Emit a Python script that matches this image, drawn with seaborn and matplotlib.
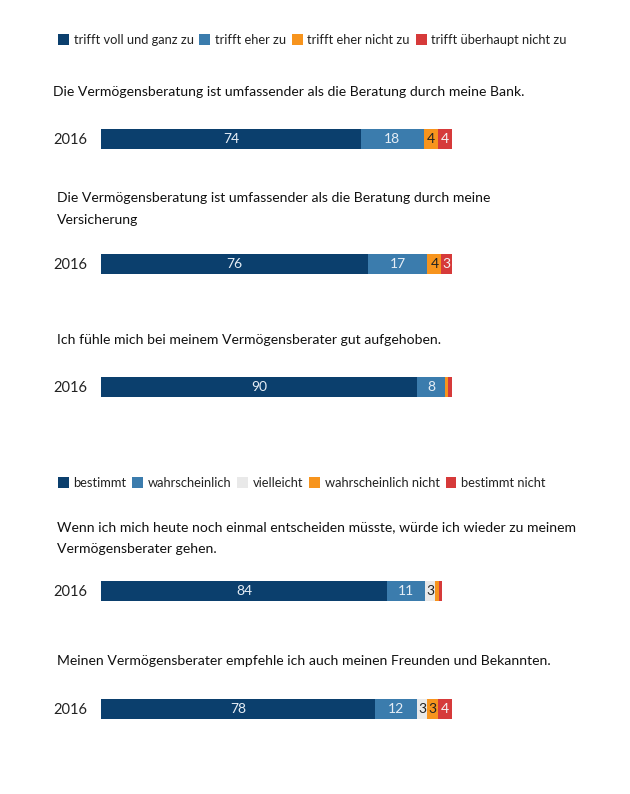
import matplotlib
matplotlib.use('Agg')
import matplotlib.pyplot as plt
import seaborn as sns
import pandas as pd
import numpy as np
from matplotlib.patches import Patch

sns.set_theme(style='white')
plt.rcParams['font.family'] = ['Lato', 'DejaVu Sans']

# ---------------- data ----------------
legend1 = ['trifft voll und ganz zu', 'trifft eher zu', 'trifft eher nicht zu', 'trifft überhaupt nicht zu']
legend2 = ['bestimmt', 'wahrscheinlich', 'vielleicht', 'wahrscheinlich nicht', 'bestimmt nicht']
colors1 = ['#0b3f6d', '#3b7cad', '#f7941d', '#d63a3a']
colors2 = ['#0b3f6d', '#3b7cad', '#e9e9e9', '#f7941d', '#d63a3a']
textcol1 = ['#e6eef6', '#e6eef6', '#222222', '#f4f4f4']
textcol2 = ['#e6eef6', '#e6eef6', '#222222', '#222222', '#f4f4f4']

questions = [
    'Die Vermögensberatung ist umfassender als die Beratung durch meine Bank.',
    'Die Vermögensberatung ist umfassender als die Beratung durch meine\nVersicherung',
    'Ich fühle mich bei meinem Vermögensberater gut aufgehoben.',
    'Wenn ich mich heute noch einmal entscheiden müsste, würde ich wieder zu meinem\nVermögensberater gehen.',
    'Meinen Vermögensberater empfehle ich auch meinen Freunden und Bekannten.',
]
year = '2016'
values = [
    [74, 18, 4, 4],
    [76, 17, 4, 3],
    [90, 8, 1, 1],
    [84, 11, 3, 1, 1],
    [78, 12, 3, 3, 4],
]
min_label = 2

# ---------------- layout (pixels) ----------------
W, H = 630, 794
fig = plt.figure(figsize=(W / 100, H / 100), dpi=100)

def fx(x):
    return x / W

def fy(y):
    return 1 - y / H

title_pos = [(53, 92), (57, 198), (57, 340), (57, 527), (57, 661)]
line_gap = 22
bar_y = [139, 264, 387, 591, 709]
bar_w = [351, 351, 351, 341, 351]
bar_left = 101
bar_h = 20

def legend(labels, colors, y):
    handles = [Patch(facecolor=c, edgecolor='none') for c in colors]
    fig.legend(handles, labels, loc='center left', bbox_to_anchor=(fx(58), fy(y)),
               ncol=len(labels), frameon=False, fontsize=9.3,
               handlelength=0.85, handleheight=0.85, handletextpad=0.35,
               columnspacing=0.45, borderaxespad=0, borderpad=0,
               labelcolor='#222222')

legend(legend1, colors1, 40)
legend(legend2, colors2, 483)

for i, (q, vals) in enumerate(zip(questions, values)):
    tx, ty = title_pos[i]
    for j, line in enumerate(q.split('\n')):
        fig.text(fx(tx), fy(ty + j * line_gap), line, ha='left', va='center',
                 fontsize=10.1, color='#111111')
    cols = colors1 if len(vals) == 4 else colors2
    tcols = textcol1 if len(vals) == 4 else textcol2
    by = bar_y[i]
    ax = fig.add_axes([fx(bar_left), fy(by + bar_h / 2), bar_w[i] / W, bar_h / H])
    cum = np.cumsum(vals)
    df = pd.DataFrame({'year': [year] * len(vals), 'cum': cum, 'seg': list(range(len(vals)))})
    # draw cumulative bars from largest to smallest to make a stacked bar
    for k in range(len(vals) - 1, -1, -1):
        sns.barplot(data=df.iloc[[k]], x='cum', y='year', orient='h', color=cols[k],
                    width=1.0, saturation=1, ax=ax, linewidth=0)
    starts = cum - np.array(vals)
    for k, v in enumerate(vals):
        if v >= min_label:
            ax.text(starts[k] + v / 2, 0, str(v), ha='center', va='center',
                    fontsize=10, color=tcols[k])
    ax.set_xlim(0, 100)
    ax.set_ylim(0.5, -0.5)
    ax.set_xlabel('')
    ax.set_ylabel('')
    ax.set_xticks([])
    ax.tick_params(axis='y', length=0, pad=10, labelsize=10.5, labelcolor='#222222')
    for s in ax.spines.values():
        s.set_visible(False)
    ax.patch.set_alpha(0)

fig.savefig('out.png', dpi=100, facecolor='white')
